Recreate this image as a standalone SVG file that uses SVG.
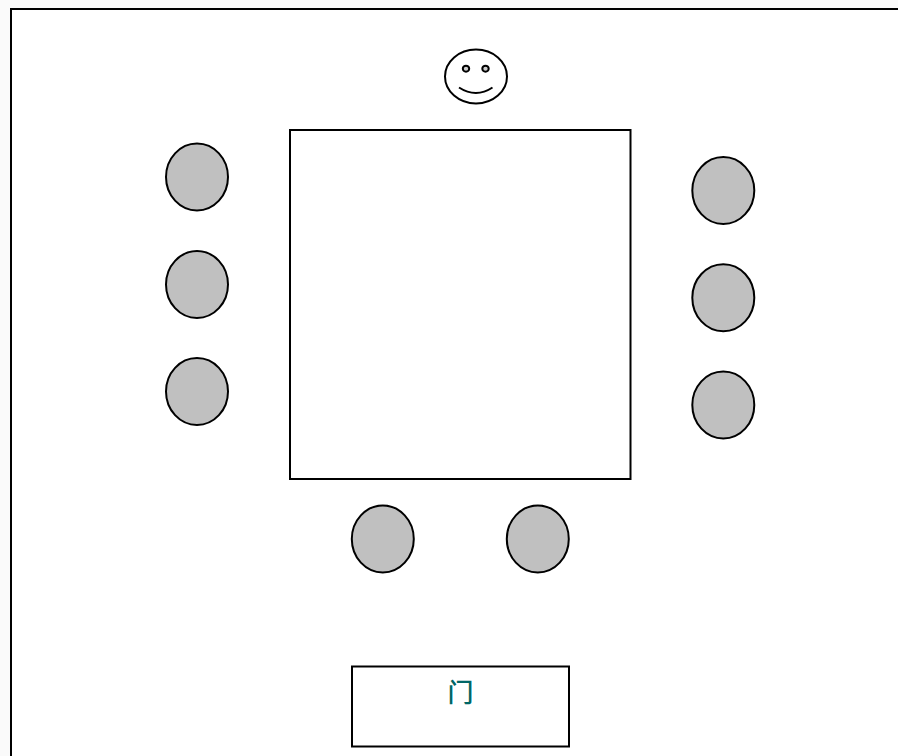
<svg xmlns="http://www.w3.org/2000/svg" width="898" height="756" viewBox="0 0 898 756">
<style>
.o{fill:none;stroke:#000;stroke-width:2}
.b{fill:#fff;stroke:#000;stroke-width:2}
.s{fill:#c0c0c0;stroke:#000;stroke-width:2}
.t{font-family:"Liberation Sans","Noto Sans CJK SC",sans-serif;font-size:26px;font-weight:500;fill:#006666;text-anchor:middle}
</style>
<rect width="898" height="756" fill="#fafafa"/>
<g id="room"><path d="M899 9H11V757H899Z" fill="#fff" stroke="#000" stroke-width="2"/></g>
<g id="table"><rect class="b" x="290" y="130" width="340.500" height="349"/></g>
<g id="face">
<ellipse class="b" cx="476" cy="76.500" rx="31" ry="27"/>
<ellipse cx="466" cy="68.700" rx="3.200" ry="3" fill="#ccc" stroke="#000" stroke-width="2"/>
<ellipse cx="485.500" cy="68.700" rx="3.200" ry="3" fill="#ccc" stroke="#000" stroke-width="2"/>
<path class="o" d="M459 87.500Q476 98.500 492.500 87.500"/>
</g>
<g id="seat-l1"><ellipse class="s" cx="197" cy="177" rx="31" ry="33.500"/></g>
<g id="seat-l2"><ellipse class="s" cx="197" cy="284.500" rx="31" ry="33.500"/></g>
<g id="seat-l3"><ellipse class="s" cx="197" cy="391.500" rx="31" ry="33.500"/></g>
<g id="seat-r1"><ellipse class="s" cx="723.300" cy="190.500" rx="31" ry="33.500"/></g>
<g id="seat-r2"><ellipse class="s" cx="723.300" cy="297.700" rx="31" ry="33.500"/></g>
<g id="seat-r3"><ellipse class="s" cx="723.300" cy="405" rx="31" ry="33.500"/></g>
<g id="seat-b1"><ellipse class="s" cx="382.800" cy="539" rx="31" ry="33.500"/></g>
<g id="seat-b2"><ellipse class="s" cx="537.800" cy="539" rx="31" ry="33.500"/></g>
<g id="door"><rect class="b" x="352" y="666.500" width="217" height="80"/><text class="t" x="460.500" y="702">门</text></g>
</svg>
